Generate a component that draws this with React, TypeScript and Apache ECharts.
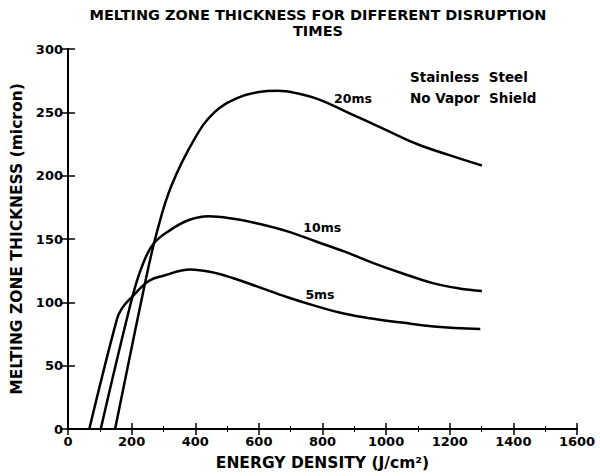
import React, { useEffect, useRef } from "react";
import * as echarts from "echarts";

// Energy density (J/cm²) and melting zone thickness (micron) for each disruption time
const x5ms = [67, 153, 169, 200, 255, 300, 384, 450, 520, 600, 690, 780, 870, 960, 1050, 1150, 1296];
const y5ms = [0, 86, 95, 104, 117, 121, 126, 124, 119, 112, 104, 97, 91, 87, 84, 81, 79];

const x10ms = [103, 200, 232, 268, 321, 380, 441, 520, 600, 690, 780, 870, 960, 1050, 1150, 1230, 1301];
const y10ms = [0, 102, 128, 146, 157, 165, 168, 166, 162, 156, 148, 140, 131, 123, 115, 111, 109];

const x20ms = [148, 242, 279, 325, 400, 460, 530, 600, 660, 720, 790, 887, 992, 1097, 1201, 1301];
const y20ms = [0, 115, 155, 192, 230, 250, 261, 266, 267, 265, 260, 249, 237, 225, 216, 208];

const seriesNames = ["5ms", "10ms", "20ms"];
// where each curve's name is written, in data coordinates
const nameAt = [
  [792, 106],
  [799, 159],
  [896, 261],
];

const titleLines = ["MELTING ZONE THICKNESS FOR DIFFERENT DISRUPTION", "TIMES"];
const noteLines = ["Stainless  Steel", "No Vapor  Shield"];

const FONT = "DejaVu Sans";

function pairs(xs: number[], ys: number[]) {
  return xs.map((x, i) => [x, ys[i]]);
}

export default function App() {
  const ref = useRef<HTMLDivElement>(null);

  useEffect(() => {
    if (!ref.current) return;
    document.body.style.margin = "0";
    const chart = echarts.init(ref.current, null, { renderer: "svg" });

    const axisLine = { show: true, lineStyle: { color: "#000", width: 2 } };
    const tickLabel = {
      color: "#000",
      fontFamily: FONT,
      fontWeight: "bold" as const,
      fontSize: 13,
      formatter: (v: number) => String(v),
    };
    const tickStyle = { color: "#000", width: 1.5 };

    const data = [pairs(x5ms, y5ms), pairs(x10ms, y10ms), pairs(x20ms, y20ms)];

    chart.setOption({
      animation: false,
      backgroundColor: "#fff",
      grid: { left: 68, right: 23, top: 49, bottom: 47, outerBoundsMode: "none", containLabel: false },
      xAxis: [
        {
          type: "value",
          min: 0,
          max: 1600,
          interval: 200,
          position: "bottom",
          axisLine,
          axisTick: { show: true, inside: true, length: 6, lineStyle: tickStyle },
          minorTick: { show: true, splitNumber: 2, length: 3, lineStyle: { color: "#000", width: 1 } },
          splitLine: { show: false },
          axisLabel: { ...tickLabel, margin: 6 },
          name: "ENERGY DENSITY (J/cm²)",
          nameLocation: "middle",
          nameGap: 26,
          nameTextStyle: { color: "#000", fontFamily: FONT, fontWeight: "bold", fontSize: 15.5 },
        },
        {
          type: "value",
          min: 0,
          max: 1600,
          interval: 200,
          position: "top",
          axisLine,
          axisTick: { show: true, inside: true, length: 6, lineStyle: tickStyle },
          minorTick: { show: true, splitNumber: 2, length: 3, lineStyle: { color: "#000", width: 1 } },
          splitLine: { show: false },
          axisLabel: { show: false },
        },
      ],
      yAxis: [
        {
          type: "value",
          min: 0,
          max: 300,
          interval: 50,
          position: "left",
          axisLine,
          axisTick: { show: true, inside: true, length: 7, lineStyle: tickStyle },
          splitLine: { show: false },
          axisLabel: { ...tickLabel, margin: 5 },
          name: "MELTING ZONE THICKNESS (micron)",
          nameLocation: "middle",
          nameRotate: 90,
          nameGap: 38,
          nameTextStyle: { color: "#000", fontFamily: FONT, fontWeight: "bold", fontSize: 15.5 },
        },
        {
          type: "value",
          min: 0,
          max: 300,
          interval: 50,
          position: "right",
          axisLine,
          axisTick: { show: true, inside: true, length: 7, lineStyle: tickStyle },
          splitLine: { show: false },
          axisLabel: { show: false },
        },
      ],
      series: data.map((d, i) => ({
        name: seriesNames[i],
        type: "line",
        data: d,
        xAxisIndex: 0,
        yAxisIndex: 0,
        smooth: 0.4,
        showSymbol: false,
        symbol: "none",
        lineStyle: { color: "#000", width: 2.5 },
        markPoint: {
          symbol: "circle",
          symbolSize: 1,
          itemStyle: { color: "rgba(0,0,0,0)" },
          label: {
            show: true,
            position: "inside",
            formatter: seriesNames[i],
            color: "#000",
            fontFamily: FONT,
            fontWeight: "bold",
            fontSize: 12.5,
          },
          data: [{ coord: nameAt[i] }],
        },
      })),
      graphic: [
        ...titleLines.map((t, i) => ({
          type: "text",
          x: 318,
          y: 15 + i * 16,
          style: {
            text: t,
            fill: "#000",
            font: `bold 14.5px "${FONT}"`,
            textAlign: "center",
            textVerticalAlign: "middle",
          },
        })),
        ...noteLines.map((t, i) => ({
          type: "text",
          x: 410,
          y: 77 + i * 21,
          style: {
            text: t,
            fill: "#000",
            font: `bold 13.5px "${FONT}"`,
            textAlign: "left",
            textVerticalAlign: "middle",
          },
        })),
      ],
    });

    return () => chart.dispose();
  }, []);

  return <div ref={ref} style={{ width: 600, height: 476 }} />;
}
